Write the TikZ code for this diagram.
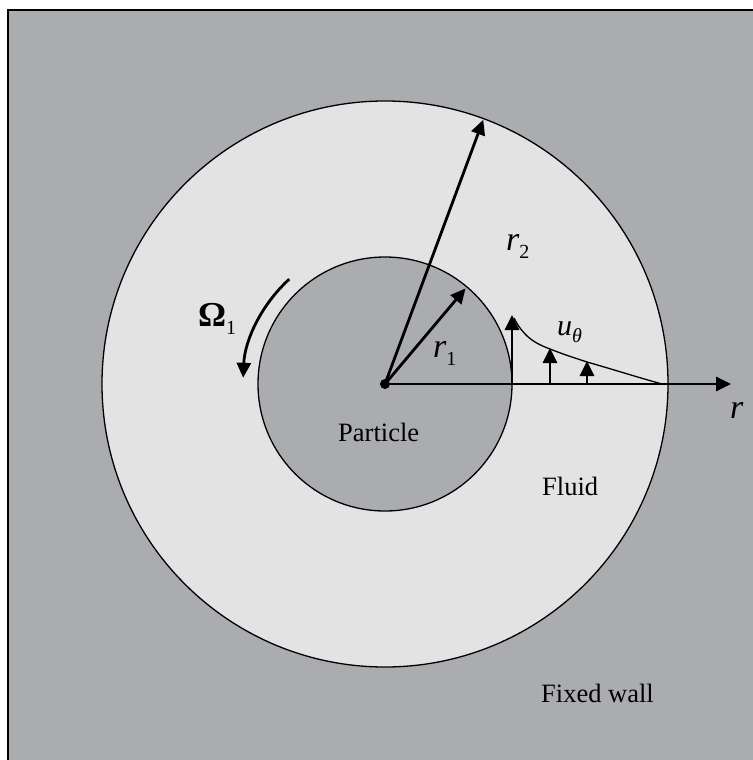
\documentclass[tikz,border=0pt]{standalone}
\usepackage{fontspec}
\setmainfont{Liberation Serif}
\usetikzlibrary{arrows.meta,calc}
\definecolor{wallgray}{RGB}{171,172,176}
\definecolor{fluidgray}{RGB}{227,227,228}
\newcommand{\subs}[1]{\raisebox{-8pt}{\fontsize{20}{20}\selectfont\upshape\mdseries #1}}
\begin{document}
\begin{tikzpicture}[x=1pt,y=1pt,
  arr/.style={line width=2.8pt,-{Triangle[width=14pt,length=15pt]}},
  thin/.style={line width=1.3pt},
  lbl/.style={font=\fontsize{26.5}{30}\selectfont, inner sep=0pt},
  sym/.style={font=\fontsize{34}{36}\selectfont, inner sep=0pt}]
\useasboundingbox (0,0) rectangle (752,-760);
\fill[wallgray] (8,-10) rectangle (780,-790);
\draw[line width=2pt] (8,-790) -- (8,-10) -- (790,-10);
\coordinate (c) at (385,-384);
\draw[thin, fill=fluidgray] (c) circle (283);
\draw[thin, fill=wallgray] (c) circle (127);
% velocity profile
\coordinate (p0) at (512,-384);
\coordinate (p1) at (550,-384);
\coordinate (p2) at (587,-384);
\coordinate (q0) at (512,-315);
\coordinate (q1) at (550,-348);
\coordinate (q2) at (587,-361);
\coordinate (rend) at (731,-384);
\draw[thin] (514,-318) .. controls (525,-340) and (540,-345) .. (550,-349)
  .. controls (565,-355) and (575,-358) .. (587,-362)
  .. controls (615,-370) and (640,-378) .. (662,-384);
\draw[arr] (c) -- (rend);
\draw[arr] (p0) -- (q0);
\draw[arr] (p1) -- (q1);
\draw[arr] (p2) -- (q2);
% radii
\coordinate (t2) at ($(c)+(69.6:282)$);
\coordinate (t1) at ($(c)+(49.9:125)$);
\draw[arr] (c) -- (t2);
\draw[arr] (c) -- (t1);
\fill (c) circle (5);
% rotation
\coordinate (om) at ($(c)+(132.4:142)$);
\draw[arr] (om) arc[start angle=132.4, end angle=177.5, radius=142];
% labels
\node[sym, anchor=base west] (lr2) at (506,-250) {\itshape r\subs{2}};
\node[sym, anchor=base west] (lr1) at (433,-357) {\itshape r\subs{1}};
\node[sym, anchor=base west] (lom) at (198,-326) {\fontsize{35}{36}\selectfont\bfseries Ω\subs{1}};
\node[sym, anchor=base west] (lu) at (557,-335) {\fontsize{30}{32}\selectfont\itshape u\raisebox{-7pt}{\fontsize{20}{20}\selectfont θ}};
\node[sym, anchor=base west] (lr) at (730,-418) {\itshape r};
\node[lbl, anchor=base west] (part) at (338,-441) {Particle};
\node[lbl, anchor=base west] (fluid) at (542,-495) {Fluid};
\node[lbl, anchor=base east] (wall) at (654,-702) {Fixed wall};
\end{tikzpicture}
\end{document}
